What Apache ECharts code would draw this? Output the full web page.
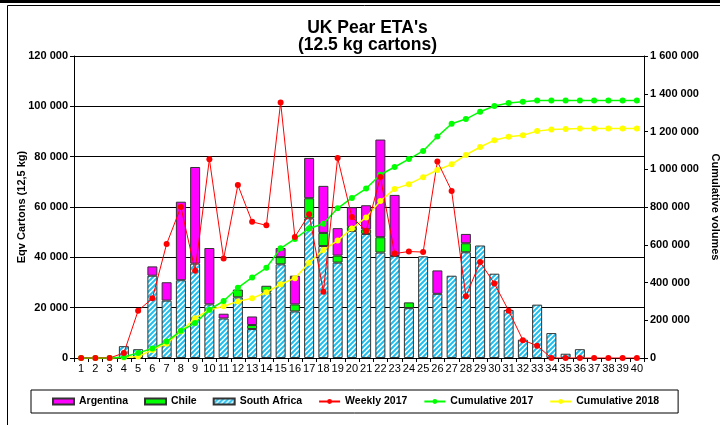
<!DOCTYPE html>
<html>
<head>
<meta charset="utf-8">
<script src="https://cdn.jsdelivr.net/npm/echarts@6/dist/echarts.min.js"></script>
<style>
html,body{margin:0;padding:0;background:#fff;}
#chart{width:720px;height:425px;}
</style>
</head>
<body>
<div id="chart"></div>
<script>
const weeks = Array.from({length: 40}, (_, i) => String(i + 1));
const titleLines = ["UK Pear ETA's", "(12.5 kg cartons)"];

const southAfrica = [0,0,0,4700,3500,32700,22800,30900,37500,21300,15700,24100,11500,26000,37200,18500,55500,44500,37900,50500,49300,41900,40500,19800,40400,25500,32700,42000,44700,33500,19100,7300,21200,9900,1700,3500,0,0,0,0];
const chile = [0,0,0,0,0,0,0,0,0,0,0,3100,1600,2700,2900,2800,8000,5200,2800,1600,1800,6100,0,2300,0,0,0,3600,0,0,0,0,0,0,0,0,0,0,0,0];
const argentina = [0,0,0,0,0,3700,7300,31200,38400,22400,1900,0,3400,0,3600,11400,16000,18700,10900,7800,9600,38800,24300,0,0,9300,0,3700,0,0,0,0,0,0,0,0,0,0,0,0];

const weekly2017 = [0,0,0,2000,18800,23700,45300,60000,34700,79000,39500,68700,54100,52700,101500,48100,57100,26300,79500,56000,50500,71900,41500,42300,42100,78100,66400,24500,38100,29600,18800,7100,4900,0,0,0,0,0,0,0];
const cumulative2017 = [0,0,0,5000,27000,50000,87000,144000,185000,256000,302000,372000,427000,478000,581000,631000,686000,711000,793000,848000,898000,971000,1012000,1054000,1097000,1173000,1241000,1266000,1305000,1335000,1351000,1358000,1364000,1364000,1364000,1364000,1364000,1364000,1364000,1364000];
const cumulative2018 = [0,0,0,2000,8000,43000,76000,142000,210000,256000,274000,300000,316000,348000,391000,423000,505000,572000,622000,686000,745000,832000,896000,921000,958000,996000,1026000,1076000,1118000,1154000,1172000,1180000,1202000,1211000,1213000,1216000,1216000,1216000,1216000,1216000];

function makeStripe() {
  const c = document.createElement('canvas');
  c.width = 5; c.height = 5;
  const ctx = c.getContext('2d');
  ctx.fillStyle = '#ffffff';
  ctx.fillRect(0, 0, 5, 5);
  ctx.strokeStyle = '#1fbff0';
  ctx.lineWidth = 2;
  ctx.beginPath();
  ctx.moveTo(-1, 6); ctx.lineTo(6, -1);
  ctx.moveTo(-3.5, 3.5); ctx.lineTo(3.5, -3.5);
  ctx.moveTo(1.5, 8.5); ctx.lineTo(8.5, 1.5);
  ctx.stroke();
  return c;
}

const fmt = v => String(v).replace(/\B(?=(\d{3})+(?!\d))/g, ' ');
const nz = arr => arr.map(v => v === 0 ? '-' : v);
const font = 'Liberation Sans, Arial, sans-serif';
const titleFont = 'bold 17.5px Liberation Sans, Arial, sans-serif';

const chart = echarts.init(document.getElementById('chart'), null, {renderer: 'canvas'});
chart.setOption({
  animation: false,
  backgroundColor: '#fff',
  textStyle: {fontFamily: font},
  graphic: [
    {type: 'rect', shape: {x: 0, y: 0, width: 720, height: 3}, style: {fill: '#000'}, silent: true},
    {type: 'rect', shape: {x: 7.5, y: 5.5, width: 730, height: 430}, style: {fill: 'none', stroke: '#000', lineWidth: 1}, silent: true},
    {type: 'text', x: 367.5, y: 28, style: {text: titleLines[0], font: titleFont, fill: '#000', textAlign: 'center', textVerticalAlign: 'middle'}, silent: true},
    {type: 'text', x: 367.5, y: 45, style: {text: titleLines[1], font: titleFont, fill: '#000', textAlign: 'center', textVerticalAlign: 'middle'}, silent: true}
  ],
  legend: {
    left: 31, top: 390,
    padding: [6, 19, 6, 21],
    borderColor: '#000', borderWidth: 1,
    itemWidth: 21, itemHeight: 6, itemGap: 16,
    textStyle: {fontFamily: font, fontSize: 10.5, fontWeight: 'bold', color: '#000'},
    data: [
      {name: 'Argentina', icon: 'rect'},
      {name: 'Chile', icon: 'rect'},
      {name: 'South Africa', icon: 'rect'},
      'Weekly 2017', 'Cumulative 2017', 'Cumulative 2018'
    ]
  },
  grid: {left: 74, right: 76, top: 56, bottom: 67, containLabel: false, outerBoundsMode: 'none'},
  xAxis: {
    type: 'category',
    data: weeks,
    axisLine: {lineStyle: {color: '#000'}},
    axisTick: {show: true, length: 4, lineStyle: {color: '#000'}},
    axisLabel: {color: '#000', fontSize: 11, fontFamily: font, interval: 0, margin: 5}
  },
  yAxis: [
    {
      type: 'value', min: 0, max: 120000, interval: 20000,
      name: 'Eqv Cartons (12,5 kg)', nameLocation: 'middle', nameGap: 47, nameRotate: 90, nameMoveOverlap: false,
      nameTextStyle: {fontFamily: font, fontSize: 11, fontWeight: 'bold', color: '#000'},
      axisLine: {show: true, lineStyle: {color: '#000'}},
      axisTick: {show: true, length: 4, lineStyle: {color: '#000'}},
      axisLabel: {color: '#000', fontSize: 11, fontWeight: 'bold', fontFamily: font, formatter: fmt, margin: 6},
      splitLine: {show: true, lineStyle: {color: '#000', width: 1}}
    },
    {
      type: 'value', min: 0, max: 1600000, interval: 200000,
      name: 'Cumulative volumes', nameLocation: 'middle', nameGap: 66, nameRotate: -90, nameMoveOverlap: false,
      nameTextStyle: {fontFamily: font, fontSize: 11, fontWeight: 'bold', color: '#000'},
      axisLine: {show: true, lineStyle: {color: '#000'}},
      axisTick: {show: true, length: 4, lineStyle: {color: '#000'}},
      axisLabel: {color: '#000', fontSize: 11, fontWeight: 'bold', fontFamily: font, formatter: fmt, margin: 6},
      splitLine: {show: false}
    }
  ],
  series: [
    {
      name: 'South Africa', type: 'bar', stack: 'total', barWidth: 10,
      data: nz(southAfrica),
      itemStyle: {color: {image: makeStripe(), repeat: 'repeat'}, borderColor: '#333', borderWidth: 1}
    },
    {
      name: 'Chile', type: 'bar', stack: 'total', barWidth: 10,
      data: nz(chile),
      itemStyle: {color: '#00ff00', borderColor: '#333', borderWidth: 1}
    },
    {
      name: 'Argentina', type: 'bar', stack: 'total', barWidth: 10,
      data: nz(argentina),
      itemStyle: {color: '#ff00ff', borderColor: '#333', borderWidth: 1}
    },
    {
      name: 'Cumulative 2018', type: 'line', yAxisIndex: 1,
      data: cumulative2018,
      symbol: 'circle', symbolSize: 6,
      lineStyle: {color: '#ffff00', width: 1.5},
      itemStyle: {color: '#ffff00'}
    },
    {
      name: 'Cumulative 2017', type: 'line', yAxisIndex: 1,
      data: cumulative2017,
      symbol: 'circle', symbolSize: 6,
      lineStyle: {color: '#00ff00', width: 1.5},
      itemStyle: {color: '#00ff00'}
    },
    {
      name: 'Weekly 2017', type: 'line', yAxisIndex: 0,
      data: weekly2017,
      symbol: 'circle', symbolSize: 6,
      lineStyle: {color: '#ff0000', width: 1},
      itemStyle: {color: '#ff0000'}
    }
  ]
});
</script>
</body>
</html>
